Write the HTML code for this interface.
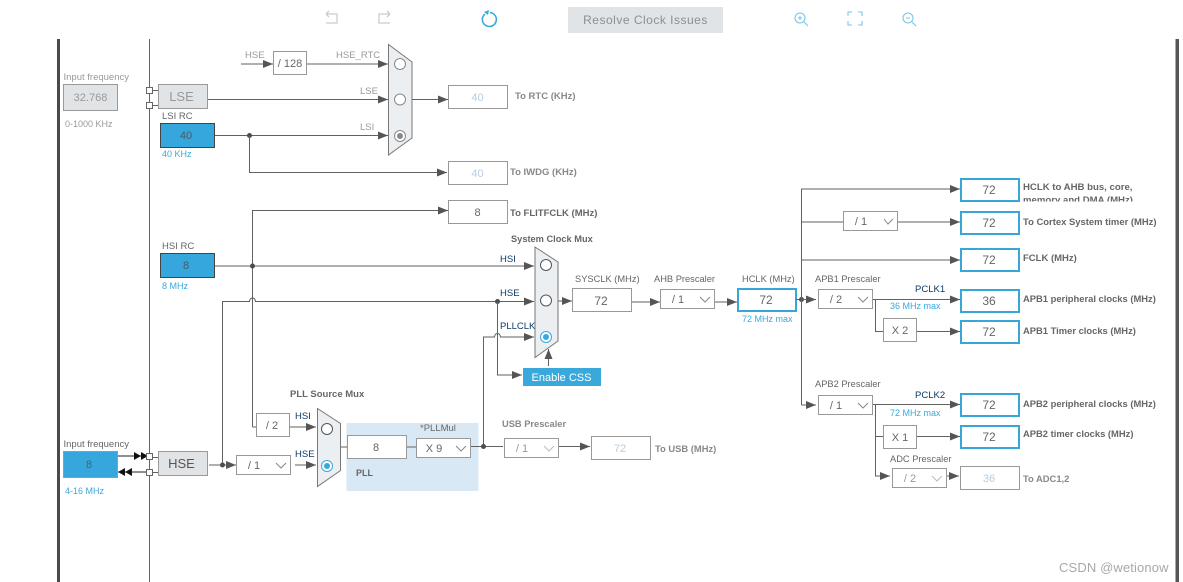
<!DOCTYPE html>
<html><head><meta charset="utf-8"><style>
html,body{margin:0;padding:0;background:#fff;width:1183px;height:582px;overflow:hidden}
svg{display:block}
text{font-family:"Liberation Sans",sans-serif;font-size:10px;fill:#666}
.l{stroke:#5f6163;stroke-width:1;fill:none}
.a{marker-end:url(#ah)}
.g{fill:#999}
.b{fill:#39a9dc}
.d{fill:#0b3a66}
.h{font-weight:bold;fill:#666}
.s{fill:#888;font-weight:bold}
.box{fill:#fff;stroke:#999;stroke-width:1}
.bb{fill:#fff;stroke:#39a6d8;stroke-width:2}
.mux{fill:#eceff1;stroke:#777;stroke-width:1}
.c{fill:#fff;stroke:#555;stroke-width:1}
.v{font-size:12px;text-anchor:middle;fill:#666}
.dis{font-size:12px;text-anchor:middle;fill:#b8cde0}
.chev{fill:none;stroke:#888;stroke-width:1}
.dot{fill:#4a4c4e}
.sq{fill:#fff;stroke:#666;stroke-width:1}
</style></head><body>
<svg width="1183" height="582" viewBox="0 0 1183 582" xmlns="http://www.w3.org/2000/svg">
<defs>
<marker id="ah" markerUnits="userSpaceOnUse" markerWidth="11" markerHeight="8" refX="10" refY="4" orient="auto"><path d="M0 0L10 4L0 8z" fill="#555"/></marker>
</defs>
<rect x="57" y="39" width="3" height="543" fill="#4a4a4a"/>
<rect x="1175.500" y="39" width="3.500" height="543" fill="#555"/>
<path d="M149.500 39V582" stroke="#666" fill="none"/>

<!-- toolbar -->
<g fill="none" stroke="#ccc" stroke-width="1.300">
<path d="M326 14L329 17M326 14L329 11M326 14H337V23H326"/>
<path d="M390 14L387 11M390 14L387 17M390 14H379V23H390"/>
</g>
<path d="M485 14A7 7 0 1 0 490 12.500" fill="none" stroke="#39a9dc" stroke-width="1.600"/>
<path d="M484 12L489 10L488 15z" fill="#39a9dc"/>
<rect x="568" y="7" width="155" height="26" fill="#e1e4e6"/>
<text x="645.500" y="24" style="font-size:12px;letter-spacing:.5px;text-anchor:middle;fill:#8a8f94">Resolve Clock Issues</text>
<g fill="none" stroke="#7cc4e6" stroke-width="1.100">
<circle cx="800" cy="18" r="5"/><path d="M804 22L808 26M798 18H802M800 16V20"/>
<path d="M848 16V12H852M858 12H862V16M862 21V25H858M852 25H848V21"/>
<circle cx="908" cy="18" r="5"/><path d="M912 22L916 26M906 18H910"/>
</g>

<!-- left top -->
<text x="63.500" y="80" class="g" style="font-size:9.500px">Input frequency</text>
<rect x="63.500" y="84.500" width="54" height="26" fill="#e1e4e6" stroke="#999"/>
<text x="90.500" y="101" class="v" style="fill:#999;font-size:11px">32.768</text>
<text x="65" y="127" class="g" style="font-size:9px">0-1000 KHz</text>
<path class="l" d="M152 90.500H158M152 105.500H158"/>
<rect class="sq" x="146.500" y="87.500" width="6" height="6"/>
<rect class="sq" x="146.500" y="102.500" width="6" height="6"/>
<rect x="158.500" y="84.500" width="49" height="24" fill="#e1e4e6" stroke="#999"/>
<text x="181.500" y="101" style="font-size:13px;text-anchor:middle;fill:#999">LSE</text>
<text x="162" y="119" style="font-size:9.500px">LSI RC</text>
<rect x="160.500" y="123.500" width="54" height="24" fill="#36a7dc" stroke="#444"/>
<text x="186" y="139" class="v" style="font-size:11px;fill:#4a5a64">40</text>
<text x="162" y="157" class="b" style="font-size:9px">40 KHz</text>

<text x="245" y="58" class="g" style="font-size:9.500px">HSE</text>
<path class="l a" d="M241 64H273"/>
<rect class="box" x="273.500" y="51.500" width="33" height="23"/>
<text x="290" y="67" class="v" style="font-size:11px">/ 128</text>
<path class="l a" d="M307 64H388"/>
<text x="336" y="58" class="g" style="font-size:9.500px">HSE_RTC</text>
<path class="l a" d="M208 99.500H388"/>
<text x="360" y="94" class="g" style="font-size:9.500px">LSE</text>
<path class="l a" d="M215 135.500H388"/>
<text x="360" y="130" class="g" style="font-size:9.500px">LSI</text>
<circle class="dot" cx="249.500" cy="135.500" r="2.500"/>
<path class="l a" d="M249.500 135.500V172.500H447"/>
<polygon class="mux" points="388.500,44.500 412,62 412,138 388.500,155"/>
<circle class="c" style="stroke:#888" cx="400" cy="64" r="5.500"/>
<circle class="c" style="stroke:#888" cx="400" cy="99.500" r="5.500"/>
<circle class="c" style="stroke:#888" cx="400" cy="136" r="5.500"/>
<circle cx="400" cy="136" r="3" fill="#888"/>
<path class="l a" d="M412 99.500H448"/>
<rect class="box" x="448.500" y="85.500" width="59" height="23"/>
<text x="477.500" y="101" class="dis" style="font-size:11px">40</text>
<text x="515" y="99" class="s" style="font-size:9.500px">To RTC (KHz)</text>
<rect class="box" x="448.500" y="161.500" width="59" height="23"/>
<text x="477.500" y="177" class="dis" style="font-size:11px">40</text>
<text x="510" y="175" class="s" style="font-size:9.500px">To IWDG (KHz)</text>

<!-- HSI section -->
<path class="l a" d="M252.500 427H256M252.500 427V210.500H448"/>
<rect class="box" x="448.500" y="200.500" width="59" height="23"/>
<text x="477.500" y="216" class="v" style="font-size:11px">8</text>
<text x="510" y="216" class="h" style="font-size:9.500px">To FLITFCLK (MHz)</text>
<text x="162" y="249" style="font-size:9.500px">HSI RC</text>
<rect x="160.500" y="253.500" width="54" height="24" fill="#36a7dc" stroke="#444"/>
<text x="186" y="269" class="v" style="font-size:11px;fill:#4a5a64">8</text>
<text x="162" y="289" class="b" style="font-size:9px">8 MHz</text>
<path class="l a" d="M215 266H534"/>
<circle class="dot" cx="252.500" cy="266" r="2.500"/>
<path class="l a" d="M222.500 465V301.500H249.500Q250 298 252.500 298Q255 298 255.500 301.500H534"/>
<circle class="dot" cx="497.500" cy="301.500" r="2.500"/>
<path class="l a" d="M497.500 301.500V375H522"/>
<path class="l a" d="M483.500 446V337H494.500Q495 333.500 497.500 333.500Q500 333.500 500.500 337H534"/>
<text x="500" y="262" class="d" style="font-size:9.500px">HSI</text>
<text x="500" y="296" class="d" style="font-size:9.500px">HSE</text>
<text x="500" y="329" class="d" style="font-size:9.500px">PLLCLK</text>
<text x="511" y="242" class="h" style="font-size:9.250px">System Clock Mux</text>
<polygon class="mux" points="535,247 558,262 558,341 535,357.500"/>
<circle class="c" cx="546" cy="265" r="5.500"/>
<circle class="c" cx="546" cy="300.500" r="5.500"/>
<circle class="c" style="stroke:#39a9dc" cx="546" cy="337" r="5.500"/>
<circle cx="546" cy="337" r="3" fill="#39a9dc"/>
<path class="l a" d="M548.500 366V349"/>
<rect x="523" y="368" width="78" height="18" fill="#39a9dc"/>
<text x="561.500" y="381" style="font-size:11px;text-anchor:middle;fill:#fff">Enable CSS</text>

<!-- sysclk row -->
<path class="l a" d="M558 301H572"/>
<text x="575" y="282" style="font-size:9.300px">SYSCLK (MHz)</text>
<rect class="box" x="572.500" y="288.500" width="59" height="23"/>
<text x="601" y="305" class="v">72</text>
<path class="l a" d="M632 302H660"/>
<text x="654" y="282" style="font-size:9.300px">AHB Prescaler</text>
<rect class="box" x="660.500" y="289.500" width="54" height="19"/>
<text x="678" y="303" class="v" style="font-size:11px">/ 1</text>
<path class="chev" d="M700 297L705 302L710 297"/>
<path class="l a" d="M715 302H737"/>
<text x="742" y="282" style="font-size:9.300px">HCLK (MHz)</text>
<rect class="bb" x="738" y="289" width="58" height="22"/>
<text x="766" y="304" class="v">72</text>
<text x="742" y="322" class="b" style="font-size:9px">72 MHz max</text>
<path class="l" d="M796 299.500H801.500"/>
<circle class="dot" cx="801.500" cy="299.500" r="2.500"/>
<path class="l a" d="M801.500 299.500H816"/>

<!-- right bus -->
<path class="l a" d="M801.500 405V189H960"/>
<path class="l a" d="M801.500 405H816"/>
<rect class="bb" x="961" y="179" width="58" height="22"/>
<text x="989" y="194" class="v">72</text>
<text x="1023" y="190" class="h" style="font-size:9.600px">HCLK to AHB bus, core,</text>
<svg x="1023" y="192" width="130" height="9.500" overflow="hidden"><text x="0" y="11" class="h" style="font-size:9.600px">memory and DMA (MHz)</text></svg>
<path class="l" d="M801.500 222H843"/>
<rect class="box" x="843.500" y="211.500" width="54" height="19"/>
<text x="861" y="225" class="v" style="font-size:11px">/ 1</text>
<path class="chev" d="M884 219L888 224L893 219"/>
<path class="l a" d="M898 222H960"/>
<rect class="bb" x="961" y="212" width="58" height="22"/>
<text x="989" y="227" class="v">72</text>
<text x="1023" y="225" class="h" style="font-size:9.450px">To Cortex System timer (MHz)</text>
<path class="l a" d="M801.500 260H960"/>
<rect class="bb" x="961" y="249" width="58" height="22"/>
<text x="989" y="264" class="v">72</text>
<text x="1023" y="261" class="h" style="font-size:9.500px">FCLK (MHz)</text>

<!-- APB1 -->
<text x="815" y="282" style="font-size:9.300px">APB1 Prescaler</text>
<rect class="box" x="818.500" y="289.500" width="54" height="19"/>
<text x="836" y="303" class="v" style="font-size:11px">/ 2</text>
<path class="chev" d="M858 297L863 302L868 297"/>
<path class="l a" d="M873 299.500H960"/>
<text x="915" y="292" class="d" style="font-size:9.500px">PCLK1</text>
<text x="890" y="309" class="b" style="font-size:9px">36 MHz max</text>
<rect class="bb" x="961" y="290" width="58" height="22"/>
<text x="989" y="305" class="v">36</text>
<text x="1023" y="302" class="h" style="font-size:9.400px">APB1 peripheral clocks (MHz)</text>
<path class="l" d="M875.500 299.500V331.500H883"/>
<rect class="box" x="883.500" y="318.500" width="33" height="23"/>
<text x="900" y="334" class="v" style="font-size:11px">X 2</text>
<path class="l a" d="M917 331.500H960"/>
<rect class="bb" x="961" y="321" width="58" height="22"/>
<text x="989" y="336" class="v">72</text>
<text x="1023" y="334" class="h" style="font-size:9.400px">APB1 Timer clocks (MHz)</text>

<!-- APB2 -->
<text x="815" y="387" style="font-size:9.300px">APB2 Prescaler</text>
<rect class="box" x="818.500" y="395.500" width="54" height="19"/>
<text x="836" y="409" class="v" style="font-size:11px">/ 1</text>
<path class="chev" d="M858 403L863 408L868 403"/>
<path class="l a" d="M873 404.500H960"/>
<text x="915" y="398" class="d" style="font-size:9.500px">PCLK2</text>
<text x="890" y="416" class="b" style="font-size:9px">72 MHz max</text>
<rect class="bb" x="961" y="394" width="58" height="22"/>
<text x="989" y="409" class="v">72</text>
<text x="1023" y="407" class="h" style="font-size:9.400px">APB2 peripheral clocks (MHz)</text>
<path class="l a" d="M875.500 404.500V476H890"/>
<path class="l" d="M875.500 436.500H883"/>
<rect class="box" x="883.500" y="425.500" width="33" height="23"/>
<text x="900" y="441" class="v" style="font-size:11px">X 1</text>
<path class="l a" d="M917 436.500H960"/>
<rect class="bb" x="961" y="426" width="58" height="22"/>
<text x="989" y="441" class="v">72</text>
<text x="1023" y="437" class="h" style="font-size:9.400px">APB2 timer clocks (MHz)</text>
<text x="890" y="462" style="font-size:9.300px">ADC Prescaler</text>
<rect class="box" x="892.500" y="468.500" width="54" height="19"/>
<text x="910" y="482" class="v" style="font-size:11px;fill:#999">/ 2</text>
<path class="chev" style="stroke:#bbb" d="M932 476L937 481L942 476"/>
<path class="l a" d="M947 476H959"/>
<rect class="box" x="960.500" y="466.500" width="59" height="23"/>
<text x="989" y="482" class="dis" style="font-size:11px">36</text>
<text x="1023" y="482" class="s" style="font-size:9.400px">To ADC1,2</text>

<!-- bottom left -->
<text x="63.500" y="447" style="font-size:9.500px">Input frequency</text>
<rect x="63.500" y="451.500" width="54" height="26" fill="#36a7dc" stroke="#999"/>
<text x="89" y="468" class="v" style="font-size:11px;fill:#3a6a78">8</text>
<text x="65" y="494" class="b" style="font-size:9px">4-16 MHz</text>
<path d="M118 456H146M146 472H118" stroke="#222" fill="none"/>
<path d="M134 452L141 456L134 460zM141 452L148 456L141 460zM125 468L118 472L125 476zM132 468L125 472L132 476z" fill="#111"/>
<path class="l" d="M152 457.500H158M152 472.500H158"/>
<rect class="sq" x="146.500" y="453.500" width="6" height="6"/>
<rect class="sq" x="146.500" y="469.500" width="6" height="6"/>
<rect x="158.500" y="451.500" width="49" height="24" fill="#e1e4e6" stroke="#999"/>
<text x="181.500" y="468" style="font-size:13px;text-anchor:middle;fill:#555">HSE</text>
<path class="l a" d="M209 465H236"/>
<circle class="dot" cx="222.500" cy="465" r="2.500"/>
<rect class="box" x="236.500" y="455.500" width="54" height="19"/>
<text x="254" y="469" class="v" style="font-size:11px">/ 1</text>
<path class="chev" d="M276 463L281 468L286 463"/>
<path class="l a" d="M295 465H316"/>
<text x="295" y="457" class="d" style="font-size:9.500px">HSE</text>
<text x="295" y="419" class="d" style="font-size:9.500px">HSI</text>
<rect class="box" x="256.500" y="413.500" width="33" height="23"/>
<text x="272" y="429" class="v" style="font-size:11px">/ 2</text>
<path class="l a" d="M290 427H316"/>
<text x="290" y="397" class="h" style="font-size:9.500px">PLL Source Mux</text>
<rect x="346.500" y="423" width="132" height="68" fill="#d9e8f5"/>
<polygon class="mux" points="317.500,408.500 340.500,423.500 340.500,470.500 317.500,486.500"/>
<circle class="c" cx="327" cy="429" r="5.500"/>
<circle class="c" style="stroke:#39a9dc" cx="327" cy="466" r="5.500"/>
<circle cx="327" cy="466" r="3" fill="#39a9dc"/>
<path class="l" d="M341 447H347M407 447H416M471 446.500H503"/>
<rect class="box" x="347.500" y="435.500" width="59" height="23"/>
<text x="376" y="451" class="v" style="font-size:11px">8</text>
<text x="420" y="431" style="font-size:9.500px">*PLLMul</text>
<rect class="box" x="416.500" y="438.500" width="54" height="19"/>
<text x="434" y="452" class="v" style="font-size:11px">X 9</text>
<path class="chev" d="M456 446L461 451L466 446"/>
<text x="356" y="476" class="h" style="font-size:9px">PLL</text>
<circle class="dot" cx="483.500" cy="446.500" r="2.500"/>
<text x="502" y="427" class="s" style="font-size:9.300px">USB Prescaler</text>
<rect class="box" x="504.500" y="438.500" width="54" height="19"/>
<text x="522" y="452" class="v" style="font-size:11px;fill:#999">/ 1</text>
<path class="chev" style="stroke:#bbb" d="M544 446L549 451L554 446"/>
<path class="l a" d="M559 446.500H590"/>
<rect class="box" x="591.500" y="436.500" width="59" height="23"/>
<text x="620" y="452" class="dis" style="font-size:11px">72</text>
<text x="655" y="452" class="s" style="font-size:9.400px">To USB (MHz)</text>

<text x="1059" y="572" style="font-size:13px;fill:#a8a8a8;letter-spacing:.13px">CSDN @wetionow</text>
</svg>
</body></html>
